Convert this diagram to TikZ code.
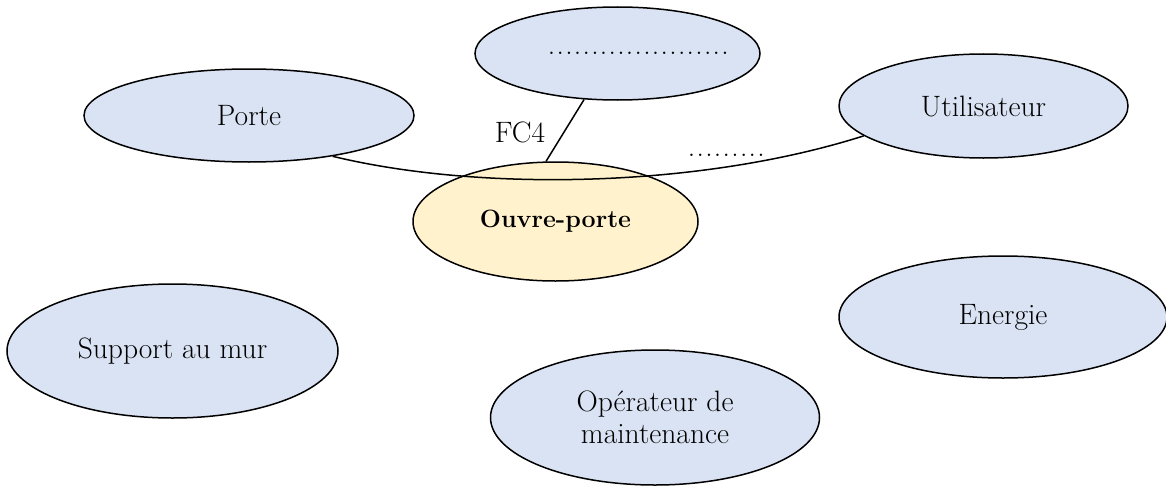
\documentclass[tikz,border=0pt]{standalone}
\usetikzlibrary{shapes.geometric}
\definecolor{bluefill}{HTML}{DAE3F3}
\definecolor{yellowfill}{HTML}{FFF2CC}
\newcommand{\dotrun}[1]{\foreach \i in {1,...,#1}{.\kern1.3pt}}
\begin{document}
\begin{tikzpicture}[x=1pt,y=-1pt,
  bubble/.style={ellipse,draw=black,line width=1.5pt,fill=bluefill,inner sep=0pt,
    font=\fontsize{29.5}{32}\selectfont,align=center},
  central/.style={bubble,fill=yellowfill,font=\fontsize{25}{29}\selectfont\bfseries},
  link/.style={draw=black,line width=1.5pt},
  plain/.style={inner sep=0pt,font=\fontsize{29.5}{32}\selectfont}]
\useasboundingbox (0,0) rectangle (1166,487);
\node[bubble,minimum width=330pt,minimum height=93pt] (porte) at (249,115.5) {Porte};
\node[bubble,minimum width=285pt,minimum height=93pt] (top) at (617.5,53.5) {\makebox[0pt]{\hspace*{43pt}\dotrun{21}}};
\node[bubble,minimum width=289pt,minimum height=104pt] (util) at (983.5,106) {Utilisateur};
\node[central,minimum width=285pt,minimum height=119pt] (ouvre) at (555.5,221.5) {Ouvre-porte};
\node[bubble,minimum width=331pt,minimum height=134pt] (support) at (172.5,351) {Support au mur};
\node[bubble,minimum width=328pt,minimum height=122pt] (energie) at (1003,317) {Energie};
\node[bubble,minimum width=329pt,minimum height=135pt] (operateur) at (655,417.5) {Opérateur de\\maintenance};
\draw[link] (porte.-26.3) .. controls (480,192) and (700,188) .. (util.-166.6);
\draw[link] (top.-126.6) -- (ouvre.99);
\node[plain] (fc4) at (520,132) {FC4};
\node[plain,anchor=base] (dots) at (727,156) {\dotrun{9}};
\end{tikzpicture}
\end{document}
